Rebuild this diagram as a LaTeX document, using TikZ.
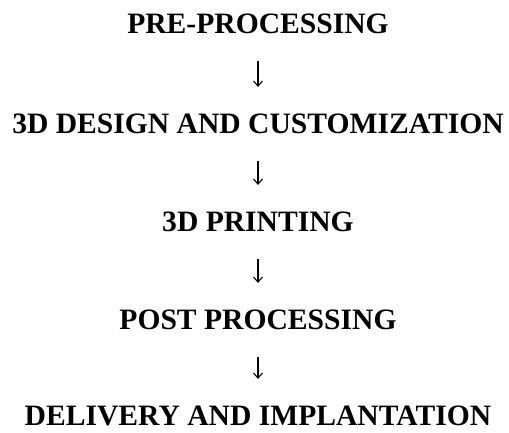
\documentclass[tikz,border=0pt]{standalone}
\usepackage{fontspec}
\setmainfont{Liberation Serif}
\usepackage{tikz}
\usetikzlibrary{arrows.meta}
\tikzset{stage/.style={font=\fontsize{29.6}{32}\selectfont\bfseries,inner sep=0pt,text height=19.8pt,text depth=0pt}}
\tikzset{flow/.style={->,line width=1.1pt,shorten <=27pt,shorten >=27pt}}

\begin{document}
\begin{tikzpicture}[x=1pt,y=-1pt,>={Straight Barb[length=5pt,width=9pt]}]
    \useasboundingbox (0,0) rectangle (509,432);
    \node[stage] (pre)at (258,24) {PRE-PROCESSING};
    \node[stage] (design)at (258,124) {3D DESIGN AND CUSTOMIZATION};
    \node[stage] (print)at (258,222) {3D PRINTING};
    \node[stage] (post)at (258,320) {POST PROCESSING};
    \node[stage] (deliv)at (258,416) {DELIVERY AND IMPLANTATION};

    \draw [flow] (pre) to (design);
    \draw [flow] (design) to (print);
    \draw [flow] (print) to (post);
    \draw [flow] (post) to (deliv);
\end{tikzpicture}
\end{document}
